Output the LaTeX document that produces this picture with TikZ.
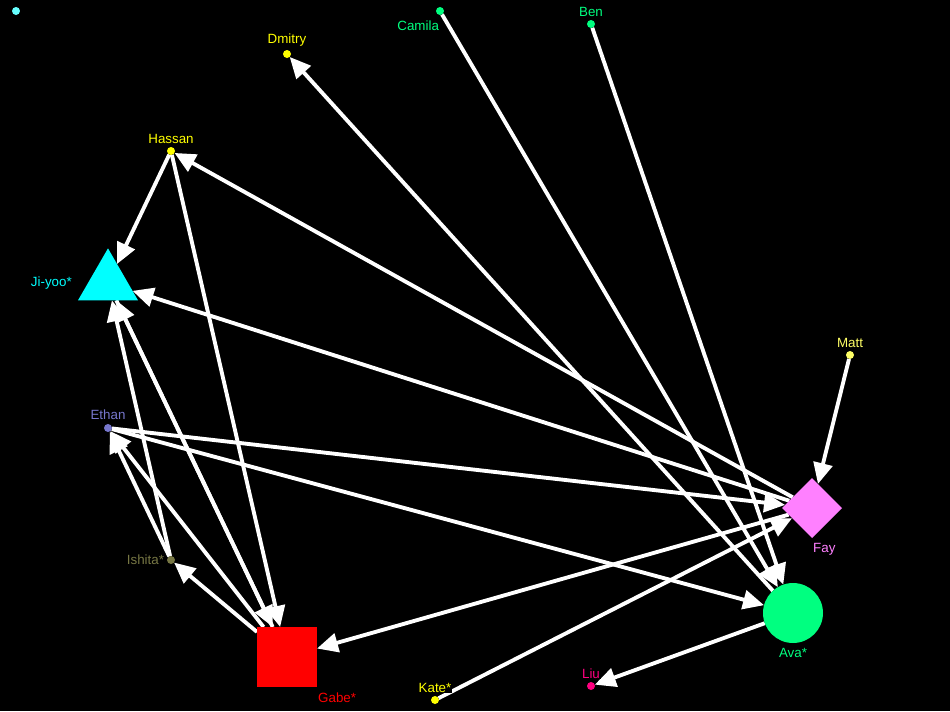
\documentclass[tikz,border=0pt]{standalone}
\usepackage{fontspec}
\setmainfont{Liberation Sans}
\usepackage{xcolor}
\usetikzlibrary{shapes.geometric, arrows.meta, positioning, backgrounds}
\definecolor{spring}{RGB}{0,255,128}
\definecolor{butter}{RGB}{255,255,102}
\definecolor{palecyan}{RGB}{102,255,255}
\definecolor{aqua}{RGB}{0,255,255}
\definecolor{lemon}{RGB}{255,255,0}
\definecolor{lilacblue}{RGB}{119,119,204}
\definecolor{mossy}{RGB}{119,119,68}
\definecolor{orchid}{RGB}{255,128,255}
\definecolor{rosered}{RGB}{255,0,128}
\definecolor{fullred}{RGB}{255,0,0}

\begin{document}
\begin{tikzpicture}[x=0.02cm, y=-0.02cm,
  vtx/.style={circle, minimum size=0.16cm, inner sep=0pt, outer sep=0pt},
  big/.style={minimum size=1.2cm, inner sep=0pt, outer sep=0pt},
  lbl/.style={font=\fontsize{7.6}{9}\selectfont, inner sep=0.5pt, fill=black},
  link/.style={-{Triangle[length=0.42cm, width=0.38cm]}, draw=white, line width=2.2pt}
]
\useasboundingbox (0,0) rectangle (950,711);

% Small people
\node[vtx, fill=palecyan] (lone) at (16,11) {};
\node[vtx, fill=spring] (camila) at (440,11) {};
\node[vtx, fill=spring] (ben) at (591,24) {};
\node[vtx, fill=lemon] (dmitry) at (287,54) {};
\node[vtx, fill=lemon] (hassan) at (171,151) {};
\node[vtx, fill=butter] (matt) at (850,355) {};
\node[vtx, fill=lilacblue] (ethan) at (108,428) {};
\node[vtx, fill=mossy] (ishita) at (171,560) {};
\node[vtx, fill=rosered] (liu) at (591,686) {};
\node[vtx, fill=lemon] (kate) at (435,700) {};

% Big people
\node[regular polygon, regular polygon sides=3, minimum size=1.386cm, inner sep=0pt, outer sep=0pt, fill=aqua] (jiyoo) at (108,283) {};
\node[diamond, big, fill=orchid] (fay) at (812,508) {};
\node[circle, big, fill=spring] (ava) at (793,613) {};
\node[rectangle, big, fill=fullred] (gabe) at (287,657) {};

% Labels
\node[lbl, text=spring, below left=3pt and -0.06cm of camila] (camila-l) {Camila};
\node[lbl, text=spring, above=1.5pt of ben] (ben-l) {Ben};
\node[lbl, text=lemon, above=1.5pt of dmitry] (dmitry-l) {Dmitry};
\node[lbl, text=lemon, above=1.5pt of hassan] (hassan-l) {Hassan};
\node[lbl, text=aqua, left=0.3cm of jiyoo] (jiyoo-l) {Ji-yoo*};
\node[lbl, text=butter, above=1.5pt of matt] (matt-l) {Matt};
\node[lbl, text=lilacblue, above=2pt of ethan] (ethan-l) {Ethan};
\node[lbl, text=mossy, left=1pt of ishita] (ishita-l) {Ishita*};
\node[lbl, text=orchid, below right=2.5pt and 0pt of fay.south] (fay-l) {Fay};
\node[lbl, text=spring, below=2.5pt of ava] (ava-l) {Ava*};
\node[lbl, text=fullred, below right=2.5pt and 0pt of gabe] (gabe-l) {Gabe*};
\node[lbl, text=rosered, above=1.5pt of liu] (liu-l) {Liu};
\node[lbl, text=lemon, above=1.5pt of kate] (kate-l) {Kate*};

% Connectors
\begin{scope}[on background layer]
\fill[black] (0,0) rectangle (950,711);
\draw[link] (hassan) -- (jiyoo);
\draw[link] (hassan) -- (gabe);
\draw[link] (fay) -- (hassan);
\draw[link] (fay) -- (jiyoo);
\draw[link] (camila) -- (ava);
\draw[link] (ben) -- (ava);
\draw[link] (ava) -- (dmitry);
\draw[link] (matt) -- (fay);
\draw[link] (ethan) -- (fay);
\draw[link] (ethan) -- (ava);
\draw[link] (gabe) -- (ethan);
\draw[link] (ishita) -- (ethan);
\draw[link] (ishita) -- (jiyoo);
\draw[link] (gabe) -- (jiyoo);
\draw[link] (jiyoo) -- (gabe);
\draw[link] (gabe) -- (ishita);
\draw[link] (fay) -- (gabe);
\draw[link] (kate) -- (fay);
\draw[link] (ava) -- (liu);
\end{scope}

\end{tikzpicture}
\end{document}
